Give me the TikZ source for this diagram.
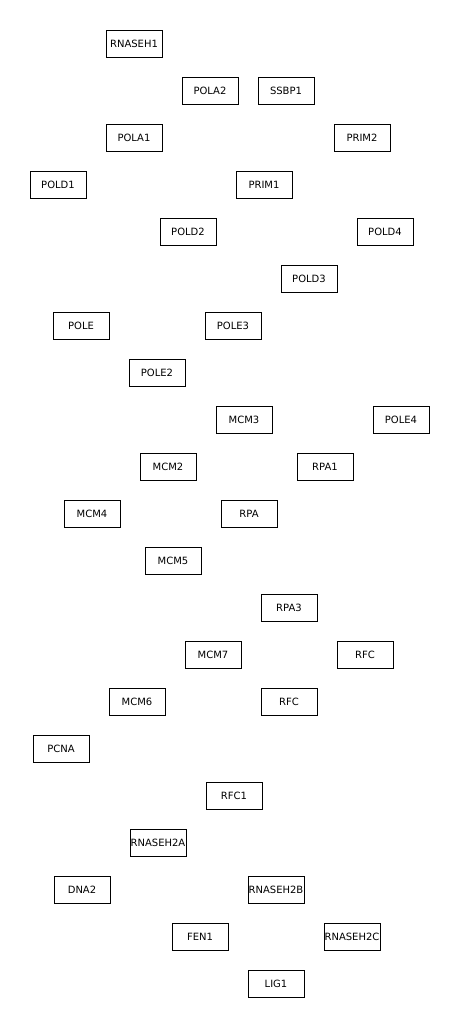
\documentclass[tikz,border=0pt]{standalone}
\usepackage{fontspec}
\setmainfont{DejaVu Sans}
\begin{document}
\begin{tikzpicture}[x=0.75pt,y=-0.75pt,
  gene/.style={draw=black,line width=0.75pt,minimum width=42pt,minimum height=20.25pt,inner sep=0pt,font=\fontsize{7.5pt}{8pt}\selectfont,fill=white}]
\useasboundingbox[fill=white] (0,0) rectangle (459,1027);
\node[gene] (rnaseh1) at (134,44) {RNASEH1};
\node[gene] (pola2) at (210,91) {POLA2};
\node[gene] (ssbp1) at (286,91) {SSBP1};
\node[gene] (pola1) at (134,138) {POLA1};
\node[gene] (prim2) at (362,138) {PRIM2};
\node[gene] (pold1) at (58,185) {POLD1};
\node[gene] (prim1) at (264,185) {PRIM1};
\node[gene] (pold2) at (188,232) {POLD2};
\node[gene] (pold4) at (385,232) {POLD4};
\node[gene] (pold3) at (309,279) {POLD3};
\node[gene] (pole) at (81,326) {POLE};
\node[gene] (pole3) at (233,326) {POLE3};
\node[gene] (pole2) at (157,373) {POLE2};
\node[gene] (mcm3) at (244,420) {MCM3};
\node[gene] (pole4) at (401,420) {POLE4};
\node[gene] (mcm2) at (168,467) {MCM2};
\node[gene] (rpa1) at (325,467) {RPA1};
\node[gene] (mcm4) at (92,514) {MCM4};
\node[gene] (rpa) at (249,514) {RPA};
\node[gene] (mcm5) at (173,561) {MCM5};
\node[gene] (rpa3) at (289,608) {RPA3};
\node[gene] (mcm7) at (213,655) {MCM7};
\node[gene] (rfcA) at (365,655) {RFC};
\node[gene] (mcm6) at (137,702) {MCM6};
\node[gene] (rfcB) at (289,702) {RFC};
\node[gene] (pcna) at (61,749) {PCNA};
\node[gene] (rfc1) at (234,796) {RFC1};
\node[gene] (rnaseh2a) at (158,843) {RNASEH2A};
\node[gene] (dna2) at (82,890) {DNA2};
\node[gene] (rnaseh2b) at (276,890) {RNASEH2B};
\node[gene] (fen1) at (200,937) {FEN1};
\node[gene] (rnaseh2c) at (352,937) {RNASEH2C};
\node[gene] (lig1) at (276,984) {LIG1};
\end{tikzpicture}
\end{document}
